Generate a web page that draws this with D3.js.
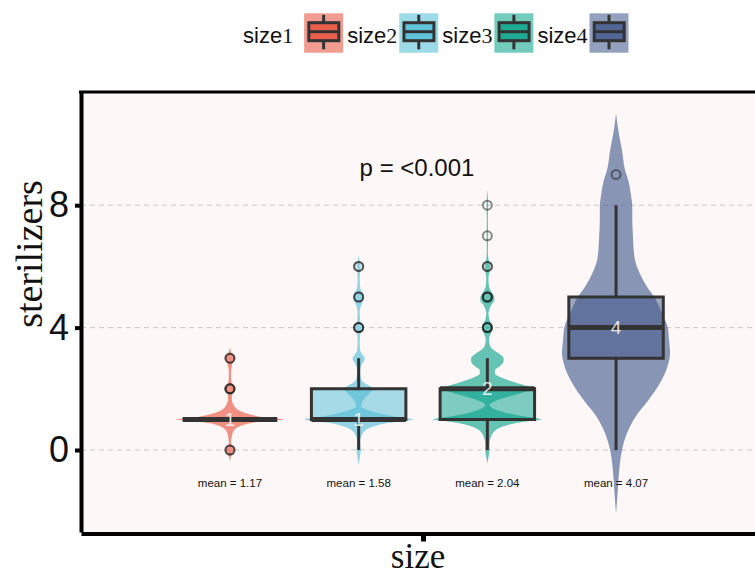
<!DOCTYPE html>
<html>
<head>
<meta charset="utf-8">
<script src="https://cdn.jsdelivr.net/npm/d3@7"></script>
<style>
  html, body { margin: 0; padding: 0; background: #ffffff; }
  svg { display: block; }
</style>
</head>
<body>
<svg id="chart" width="755" height="576"></svg>
<script>
// ---------------- data ----------------
const groups = ["size1", "size2", "size3", "size4"];
const groupDigits = ["1", "2", "3", "4"];
const colors = ["#E64B35", "#4DBBD5", "#00A087", "#3C5488"];
const q1 = [1, 1, 1, 3];
const medians = [1, 1, 2, 4];
const q3 = [1, 2, 2, 5];
const whiskerLow = [1, 0, 0, 0];
const whiskerHigh = [1, 3, 3, 8];
const means = [1.17, 1.58, 2.04, 4.07];
const outliers1 = [0, 0, 2, 2, 2, 3, 3];
const outliers2 = [4, 4, 4, 5, 5, 6, 6];
const outliers3 = [4, 4, 4, 5, 5, 5, 6, 6, 7, 8];
const outliers4 = [9];
// violin density profiles: [value, relative half-width]
const violin1 = [[-0.42,0],[-0.2,0.02],[-0.05,0.06],[0,0.08],[0.05,0.06],[0.25,0.02],[0.45,0.035],[0.6,0.06],[0.72,0.12],[0.8,0.22],[0.88,0.4],[0.93,0.6],[0.97,0.85],[1,1],[1.03,0.85],[1.08,0.6],[1.15,0.4],[1.25,0.22],[1.35,0.12],[1.5,0.06],[1.65,0.035],[1.85,0.04],[1.95,0.08],[2,0.09],[2.05,0.08],[2.2,0.03],[2.5,0.02],[2.8,0.04],[2.95,0.08],[3,0.09],[3.05,0.07],[3.2,0.02],[3.38,0]];
const violin2 = [[-0.5,0],[-0.15,0.03],[0,0.04],[0.15,0.03],[0.3,0.03],[0.45,0.05],[0.6,0.1],[0.7,0.18],[0.82,0.37],[0.9,0.6],[0.95,0.85],[1,1],[1.05,0.85],[1.1,0.65],[1.2,0.38],[1.3,0.18],[1.42,0.05],[1.55,0.06],[1.7,0.12],[1.85,0.2],[2,0.27],[2.1,0.2],[2.2,0.1],[2.35,0.04],[2.6,0.03],[2.8,0.06],[2.92,0.1],[3,0.115],[3.1,0.08],[3.25,0.03],[3.5,0.02],[3.8,0.03],[4,0.05],[4.2,0.03],[4.5,0.02],[4.75,0.05],[4.9,0.09],[5,0.1],[5.1,0.08],[5.3,0.03],[5.6,0.02],[5.85,0.03],[6,0.04],[6.15,0.02],[6.37,0]];
const violin3 = [[-0.43,0],[-0.15,0.03],[0,0.04],[0.2,0.04],[0.4,0.06],[0.55,0.1],[0.7,0.2],[0.82,0.38],[0.9,0.6],[0.96,0.85],[1,1],[1.05,0.85],[1.12,0.6],[1.22,0.33],[1.32,0.15],[1.47,0.04],[1.6,0.15],[1.72,0.35],[1.85,0.6],[1.95,0.8],[2,0.84],[2.08,0.75],[2.2,0.53],[2.35,0.28],[2.5,0.14],[2.6,0.14],[2.75,0.24],[2.9,0.3],[3,0.3],[3.12,0.24],[3.25,0.13],[3.4,0.05],[3.6,0.03],[3.8,0.06],[3.95,0.09],[4.05,0.09],[4.25,0.04],[4.45,0.02],[4.7,0.06],[4.9,0.13],[5,0.13],[5.15,0.08],[5.35,0.03],[5.6,0.02],[5.85,0.04],[6,0.05],[6.15,0.03],[6.5,0.01],[7,0.015],[7.5,0.01],[8,0.015],[8.5,0]];
const violin4 = [[-2.07,0],[-1.63,0.02],[-1.09,0.04],[-0.54,0.065],[0,0.11],[0.54,0.2],[1.09,0.36],[1.63,0.6],[2.18,0.81],[2.72,0.95],[3.16,1],[3.6,0.98],[3.98,0.96],[4.47,0.85],[4.96,0.72],[5.34,0.57],[5.77,0.44],[6.21,0.35],[6.7,0.32],[7.08,0.31],[7.5,0.3],[7.95,0.3],[8.4,0.27],[8.72,0.24],[9.2,0.16],[9.8,0.11],[10.35,0.05],[11,0]];
const outliers = [outliers1, outliers2, outliers3, outliers4];
const violins = [violin1, violin2, violin3, violin4];
const yTicks = [0, 4, 8];
const xCategories = ["size"];
const pLabel = "p = <0.001";
const yTitle = "sterilizers";
const xTitle = "size";

// ---------------- layout ----------------
const svg = d3.select("#chart");
const panel = { left: 81, right: 765, top: 92, bottom: 532 };
const sans = "'Liberation Sans', Arial, Helvetica, sans-serif";
const serif = "'Liberation Serif', 'Times New Roman', serif";

const y = d3.scaleLinear().domain([-2.68, 11.7]).range([panel.bottom, panel.top]);
const xOuter = d3.scalePoint().domain(xCategories).range([panel.left, panel.right]).padding(0.5);
const xInner = d3.scaleBand().domain(groups).range([-257.4, 257.4]);
const bw = xInner.bandwidth();
const cx = g => xOuter("size") + xInner(g) + bw / 2;
const violinHalf = bw * 0.42;
const boxHalf = bw * 0.367;

// panel background
svg.append("rect")
  .attr("x", panel.left).attr("y", panel.top)
  .attr("width", panel.right - panel.left).attr("height", panel.bottom - panel.top)
  .attr("fill", "#FDF8F7");

// gridlines
svg.append("g").selectAll("line").data(yTicks).join("line")
  .attr("x1", panel.left).attr("x2", panel.right)
  .attr("y1", d => y(d)).attr("y2", d => y(d))
  .attr("stroke", "#c9c9c9").attr("stroke-width", 1).attr("stroke-dasharray", "5,4");

// violins
const plot = svg.append("g");
groups.forEach((g, i) => {
  const c = cx(g);
  const area = d3.area()
    .curve(d3.curveMonotoneY)
    .y(d => y(d[0]))
    .x0(d => c - d[1] * violinHalf)
    .x1(d => c + d[1] * violinHalf);
  plot.append("path").datum(violins[i])
    .attr("d", area)
    .attr("fill", colors[i]).attr("fill-opacity", 0.6);
});

// boxes
groups.forEach((g, i) => {
  const c = cx(g);
  const x0 = c - boxHalf, x1 = c + boxHalf;
  const yt = y(q3[i]), yb = y(q1[i]);
  plot.append("line").attr("x1", c).attr("x2", c)
    .attr("y1", yt).attr("y2", y(whiskerHigh[i]))
    .attr("stroke", "#333").attr("stroke-width", 3);
  plot.append("line").attr("x1", c).attr("x2", c)
    .attr("y1", yb).attr("y2", y(whiskerLow[i]))
    .attr("stroke", "#333").attr("stroke-width", 3);
  plot.append("path")
    .attr("d", `M${x0},${yt}H${x1}V${yb}H${x0}Z`)
    .attr("fill", colors[i]).attr("fill-opacity", 0.5)
    .attr("stroke", "#333").attr("stroke-width", 3);
  plot.append("line").attr("x1", x0).attr("x2", x1)
    .attr("y1", y(medians[i])).attr("y2", y(medians[i]))
    .attr("stroke", "#333").attr("stroke-width", 5);
});

// outliers
groups.forEach((g, i) => {
  plot.append("g").selectAll("circle").data(outliers[i]).join("circle")
    .attr("cx", cx(g)).attr("cy", d => y(d)).attr("r", 4.5)
    .attr("fill", "none").attr("stroke", "#1a1a1a")
    .attr("stroke-width", 2).attr("stroke-opacity", 0.5);
});

// median labels
groups.forEach((g, i) => {
  plot.append("text")
    .attr("x", cx(g)).attr("y", y(medians[i]))
    .attr("text-anchor", "middle").attr("dominant-baseline", "central")
    .attr("font-family", sans).attr("font-size", 19)
    .attr("fill", "#ffffff").attr("fill-opacity", 0.85)
    .text(medians[i]);
});

// mean labels
groups.forEach((g, i) => {
  plot.append("text")
    .attr("x", cx(g)).attr("y", 487)
    .attr("text-anchor", "middle")
    .attr("font-family", sans).attr("font-size", 11.5)
    .attr("fill", "#111")
    .text("mean = " + means[i].toFixed(2));
});

// p label
svg.append("text")
  .attr("x", 417).attr("y", 176)
  .attr("text-anchor", "middle")
  .attr("font-family", sans).attr("font-size", 24)
  .attr("fill", "#111")
  .text(pLabel);

// axes
const yAxis = svg.append("g")
  .attr("transform", `translate(${panel.left},0)`)
  .call(d3.axisLeft(y).tickValues(yTicks).tickSizeInner(6).tickSizeOuter(0).tickPadding(6).tickFormat(d3.format("d")));
yAxis.select(".domain").attr("stroke", "#000").attr("stroke-width", 4);
yAxis.selectAll(".tick line").attr("stroke", "#000").attr("stroke-width", 4);
yAxis.selectAll(".tick text")
  .attr("font-family", sans).attr("font-size", 36).attr("fill", "#111");

const xAxis = svg.append("g")
  .attr("transform", `translate(0,${panel.bottom + 1.5})`)
  .call(d3.axisBottom(xOuter).tickSizeInner(8).tickSizeOuter(0).tickFormat(""));
xAxis.select(".domain").attr("stroke", "#000").attr("stroke-width", 4);
xAxis.selectAll(".tick line").attr("stroke", "#000").attr("stroke-width", 5);

// top border
svg.append("line")
  .attr("x1", panel.left - 2).attr("x2", panel.right)
  .attr("y1", panel.top).attr("y2", panel.top)
  .attr("stroke", "#000").attr("stroke-width", 3);

// axis titles
svg.append("text")
  .attr("transform", "translate(42,254) rotate(-90)")
  .attr("text-anchor", "middle")
  .attr("font-family", serif).attr("font-size", 38).attr("fill", "#111")
  .text(yTitle);
svg.append("text")
  .attr("x", 418).attr("y", 568)
  .attr("text-anchor", "middle")
  .attr("font-family", serif).attr("font-size", 35).attr("fill", "#111")
  .text(xTitle);

// legend
const legend = svg.append("g");
let lx = 243;
groups.forEach((g, i) => {
  const t = legend.append("text").attr("x", lx).attr("y", 43)
    .attr("font-size", 22).attr("fill", "#111");
  t.append("tspan").attr("font-family", sans).text("size");
  t.append("tspan").attr("font-family", serif).text(groupDigits[i]);
  const tw = t.node().getComputedTextLength();
  const kx = lx + tw + (i === 0 ? 11 : 2);
  const k = legend.append("g").attr("transform", `translate(${kx},13.3)`);
  k.append("rect").attr("width", 39).attr("height", 39.4)
    .attr("fill", colors[i]).attr("fill-opacity", 0.55);
  k.append("line").attr("x1", 19.5).attr("x2", 19.5).attr("y1", 1.5).attr("y2", 9.4)
    .attr("stroke", "#333").attr("stroke-width", 3);
  k.append("line").attr("x1", 19.5).attr("x2", 19.5).attr("y1", 27.4).attr("y2", 36)
    .attr("stroke", "#333").attr("stroke-width", 3);
  k.append("rect").attr("x", 4.7).attr("y", 9.4).attr("width", 30).attr("height", 18)
    .attr("fill", colors[i]).attr("fill-opacity", 0.75)
    .attr("stroke", "#333").attr("stroke-width", 3);
  k.append("line").attr("x1", 4.7).attr("x2", 34.7).attr("y1", 18.4).attr("y2", 18.4)
    .attr("stroke", "#333").attr("stroke-width", 3);
  lx = kx + 39 + 4;
});
</script>
</body>
</html>
